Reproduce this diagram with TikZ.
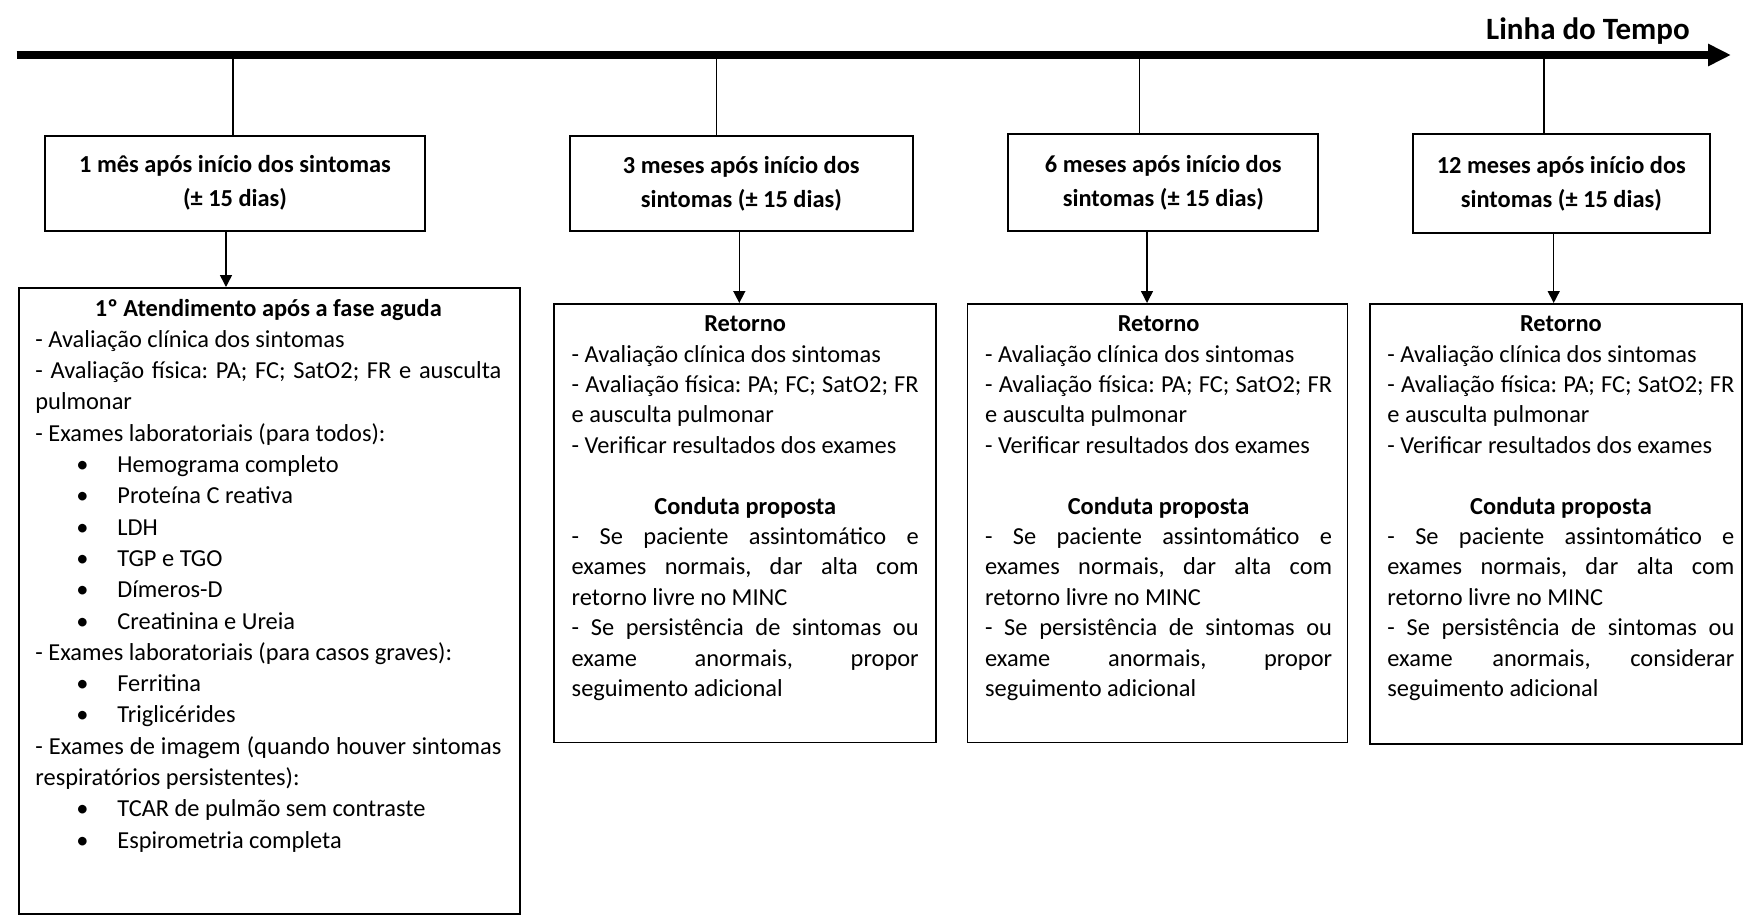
\documentclass[tikz,border=0pt]{standalone}
\usepackage{fontspec}
\setmainfont{Carlito}
\usetikzlibrary{arrows.meta}
\newcommand{\natsp}{\spaceskip=0pt\xspaceskip=0pt\frenchspacing\relax}
\newcommand{\jline}[2]{{\natsp\makebox[#1][s]{#2}}}
\newcommand{\bitem}{\hspace*{18.5pt}\makebox[10pt]{\textbullet}\hspace*{12.5pt}}
\begin{document}
\begin{tikzpicture}[x=0.5pt,y=-0.5pt,
  timebox/.style={draw=black,line width=0.85pt,inner sep=0pt,align=center,
    font=\fontsize{12.2pt}{17pt}\selectfont\bfseries},
  panel/.style={draw=black,line width=0.85pt,inner sep=0pt,anchor=north west},
  paneltext/.style={inner sep=0pt,anchor=base west,align=left,
    font=\fontsize{12.2pt}{15.2pt}\selectfont},
  ticklink/.style={line width=0.75pt},
  arr/.style={line width=0.75pt,-{Triangle[length=6pt,width=6pt]}},
  timeline/.style={line width=3.75pt,-{Triangle[length=11.5pt,width=10.5pt]}}
]
\useasboundingbox (0,0) rectangle (1743,915);

% timeline
\coordinate (tls) at (16.7,55);
\coordinate (tle) at (1731,55);
\draw[timeline] (tls) -- (tle);
\node[anchor=base east,inner sep=0pt,font=\fontsize{15.5pt}{18pt}\selectfont\bfseries] (title) at (1690,40) {Linha do Tempo};

% top boxes
\node[timebox,minimum width=190pt,minimum height=47.5pt] (B1) at (235,183.2) {\natsp 1 mês após início dos sintomas\\\natsp(± 15 dias)};
\node[timebox,minimum width=171.35pt,minimum height=47.5pt] (B2) at (741.3,183.5) {\natsp 3 meses após início dos\\\natsp sintomas (± 15 dias)};
\node[timebox,minimum width=155pt,minimum height=48.35pt] (B3) at (1163.3,182.3) {\natsp 6 meses após início dos\\\natsp sintomas (± 15 dias)};
\node[timebox,minimum width=148.65pt,minimum height=49.5pt] (B4) at (1561.3,183.5) {\natsp 12 meses após início dos\\\natsp sintomas (± 15 dias)};

% ticks from timeline
\coordinate (t1) at (233,55);
\coordinate (t2) at (716.7,55);
\coordinate (t3) at (1139.3,55);
\coordinate (t4) at (1544,55);
\draw[ticklink] (t1) -- (t1 |- B1.north);
\draw[ticklink] (t2) -- (t2 |- B2.north);
\draw[ticklink] (t3) -- (t3 |- B3.north);
\draw[ticklink] (t4) -- (t4 |- B4.north);

% lower panels
\node[panel,minimum width=250.5pt,minimum height=313pt] (L1) at (18,287) {};
\node[panel,minimum width=190.85pt,minimum height=219.35pt] (L2) at (553.3,303) {};
\node[panel,minimum width=189.9pt,minimum height=219.35pt] (L3) at (966.7,303) {};
\node[panel,minimum width=186pt,minimum height=220pt] (L4) at (1369,303) {};

% arrows
\coordinate (a1) at (226,230.7);
\coordinate (a2) at (739.3,231);
\coordinate (a3) at (1147,230.7);
\coordinate (a4) at (1553.7,233);
\draw[arr] (a1) -- (a1 |- L1.north);
\draw[arr] (a2) -- (a2 |- L2.north);
\draw[arr] (a3) -- (a3 |- L3.north);
\draw[arr] (a4) -- (a4 |- L4.north);

% panel texts
\node[paneltext,text width=233pt,font=\fontsize{12.2pt}{15.65pt}\selectfont] (L1t) at (35,316) {\natsp
\makebox[233pt]{\bfseries 1º Atendimento após a fase aguda}\\
- Avaliação clínica dos sintomas\\
\jline{233pt}{- Avaliação física: PA; FC; SatO2; FR e ausculta}\\
pulmonar\\
- Exames laboratoriais (para todos):\\
\bitem Hemograma completo\\
\bitem Proteína C reativa\\
\bitem LDH\\
\bitem TGP e TGO\\
\bitem Dímeros-D\\
\bitem Creatinina e Ureia\\
- Exames laboratoriais (para casos graves):\\
\bitem Ferritina\\
\bitem Triglicérides\\
\jline{233pt}{- Exames de imagem (quando houver sintomas}\\
respiratórios persistentes):\\
\bitem TCAR de pulmão sem contraste\\
\bitem Espirometria completa};

\node[paneltext,text width=173.5pt] (L2t) at (571.3,331.6) {\natsp
\makebox[173.5pt]{\bfseries Retorno}\\
- Avaliação clínica dos sintomas\\
\jline{173.5pt}{- Avaliação física: PA; FC; SatO2; FR}\\
e ausculta pulmonar\\
- Verificar resultados dos exames\\
\mbox{}\\
\makebox[173.5pt]{\bfseries Conduta proposta}\\
\jline{173.5pt}{- Se paciente assintomático e}\\
\jline{173.5pt}{exames normais, dar alta com}\\
retorno livre no MINC\\
\jline{173.5pt}{- Se persistência de sintomas ou}\\
\jline{173.5pt}{exame anormais, propor}\\
seguimento adicional};

\node[paneltext,text width=173.5pt] (L3t) at (984.7,331.6) {\natsp
\makebox[173.5pt]{\bfseries Retorno}\\
- Avaliação clínica dos sintomas\\
\jline{173.5pt}{- Avaliação física: PA; FC; SatO2; FR}\\
e ausculta pulmonar\\
- Verificar resultados dos exames\\
\mbox{}\\
\makebox[173.5pt]{\bfseries Conduta proposta}\\
\jline{173.5pt}{- Se paciente assintomático e}\\
\jline{173.5pt}{exames normais, dar alta com}\\
retorno livre no MINC\\
\jline{173.5pt}{- Se persistência de sintomas ou}\\
\jline{173.5pt}{exame anormais, propor}\\
seguimento adicional};

\node[paneltext,text width=173.5pt] (L4t) at (1387,331.6) {\natsp
\makebox[173.5pt]{\bfseries Retorno}\\
- Avaliação clínica dos sintomas\\
\jline{173.5pt}{- Avaliação física: PA; FC; SatO2; FR}\\
e ausculta pulmonar\\
- Verificar resultados dos exames\\
\mbox{}\\
\makebox[173.5pt]{\bfseries Conduta proposta}\\
\jline{173.5pt}{- Se paciente assintomático e}\\
\jline{173.5pt}{exames normais, dar alta com}\\
retorno livre no MINC\\
\jline{173.5pt}{- Se persistência de sintomas ou}\\
\jline{173.5pt}{exame anormais, considerar}\\
seguimento adicional};
\end{tikzpicture}
\end{document}
